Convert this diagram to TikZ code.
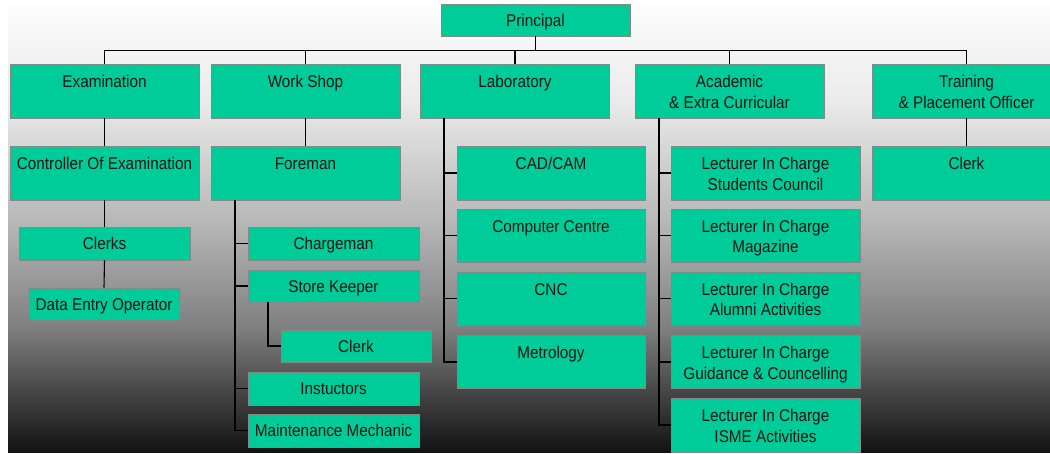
\documentclass[tikz,border=0pt]{standalone}
\usepackage{fontspec}
\setmainfont{Liberation Sans}[FakeStretch=0.9]
\definecolor{boxgreen}{RGB}{0,204,153}
\definecolor{boxline}{RGB}{125,140,135}
\newcommand\tstrut{\rule{0pt}{20.35pt}}
\newcommand\oneline[1]{\raisebox{0pt}[14.1pt][2pt]{#1}}
\pgfdeclareverticalshading{bgshade}{100bp}{color(0bp)=(black!93); color(25bp)=(black!93); color(31bp)=(black!75); color(39bp)=(black!50); color(51bp)=(black!28); color(64.5bp)=(black!8); color(75bp)=(black!1); color(100bp)=(black!1)}
\tikzset{
  orgbox/.style={draw=boxline, fill=boxgreen, line width=0.8pt, inner sep=0pt, align=center,
    font=\fontsize{17}{20.5}\selectfont, text=black!92},
  bigbox/.style={orgbox, minimum width=189pt, minimum height=54pt},
  midbox/.style={orgbox, minimum width=171pt, minimum height=33pt},
  narrowbox/.style={orgbox, minimum width=150pt, minimum height=32pt},
  con/.style={draw=black, line width=1.1pt}
}
\begin{document}
\begin{tikzpicture}[x=1pt,y=-1pt]
\useasboundingbox (0,0) rectangle (1050,454);
\fill[shading=bgshade] (8,7) rectangle (1050,452);

% top
\node[orgbox, minimum width=189pt, minimum height=32pt] (prin) at (535.5,20) {\oneline{Principal}};
\node[bigbox] (exam) at (104.5,91) {\tstrut Examination\\\strut};
\node[bigbox] (work) at (305.5,91) {\tstrut Work Shop\\\strut};
\node[bigbox] (lab) at (515,91) {\tstrut Laboratory\\\strut};
\node[bigbox] (acad) at (729.5,91) {\tstrut Academic\\\& Extra Curricular\strut};
\node[bigbox] (train) at (966.5,91) {\tstrut Training\\\& Placement Officer\strut};

% second row
\node[bigbox] (ctrl) at (104.5,173) {\tstrut Controller Of Examination\\\strut};
\node[bigbox] (fore) at (305.5,173) {\tstrut Foreman\\\strut};
\node[bigbox] (tclerk) at (966.5,173) {\tstrut Clerk\\\strut};

% examination branch
\node[midbox] (clerks) at (104.5,243.5) {\oneline{Clerks}};
\node[narrowbox] (deo) at (104,304) {\oneline{Data Entry Operator}};

% workshop branch
\node[midbox] (charge) at (333.5,243.5) {\oneline{Chargeman}};
\node[midbox, minimum height=32pt] (store) at (333.5,286) {\oneline{Store Keeper}};
\node[narrowbox] (sclerk) at (356,346) {\oneline{Clerk}};
\node[midbox] (inst) at (333.5,388.5) {\oneline{Instuctors}};
\node[midbox] (maint) at (333.5,430.5) {\oneline{Maintenance Mechanic}};

% laboratory branch
\node[bigbox, minimum width=188pt] (cad) at (551,173) {\tstrut CAD/CAM\\\strut};
\node[bigbox, minimum width=188pt, minimum height=53pt] (cc) at (551,235.5) {\tstrut Computer Centre\\\strut};
\node[bigbox, minimum width=188pt, minimum height=53pt] (cnc) at (551,298.5) {\tstrut CNC\\\strut};
\node[bigbox, minimum width=188pt, minimum height=53pt] (met) at (551,362) {\tstrut Metrology\\\strut};

% academic branch
\node[bigbox] (l1) at (765.5,173) {\tstrut Lecturer In Charge\\Students Council\strut};
\node[bigbox, minimum height=53pt] (l2) at (765.5,235.5) {\tstrut Lecturer In Charge\\Magazine\strut};
\node[bigbox, minimum height=53pt] (l3) at (765.5,298.5) {\tstrut Lecturer In Charge\\Alumni Activities\strut};
\node[bigbox, minimum height=53pt] (l4) at (765.5,362) {\tstrut Lecturer In Charge\\Guidance \& Councelling\strut};
\node[bigbox] (l5) at (765.5,425) {\tstrut Lecturer In Charge\\ISME Activities\strut};

% connectors
\coordinate (bus) at (0,50.5);
\coordinate (fb) at (235,0);
\coordinate (sb) at (268,0);
\coordinate (lb) at (444,0);
\coordinate (ab) at (659,0);

\draw[con] (prin.south) -- (prin.south |- bus);
\draw[con] (exam.north) -- (exam.north |- bus) -- (train.north |- bus) -- (train.north);
\draw[con] (work.north) -- (work.north |- bus);
\draw[con] (lab.north) -- (lab.north |- bus);
\draw[con] (acad.north) -- (acad.north |- bus);

\draw[con] (exam.south) -- (ctrl.north);
\draw[con] (ctrl.south) -- (clerks.north);
\draw[con] (clerks.south) -- (deo.north);

\draw[con] (work.south) -- (fore.north);
\draw[con] (fore.south -| fb) |- (maint.west);
\draw[con] (fore.south -| fb) |- (charge.west);
\draw[con] (fore.south -| fb) |- (store.west);
\draw[con] (fore.south -| fb) |- (inst.west);
\draw[con] (store.south -| sb) |- (sclerk.west);

\draw[con] (lab.south -| lb) |- (met.west);
\draw[con] (lab.south -| lb) |- (cad.west);
\draw[con] (lab.south -| lb) |- (cc.west);
\draw[con] (lab.south -| lb) |- (cnc.west);

\draw[con] (acad.south -| ab) |- (l5.west);
\draw[con] (acad.south -| ab) |- (l1.west);
\draw[con] (acad.south -| ab) |- (l2.west);
\draw[con] (acad.south -| ab) |- (l3.west);
\draw[con] (acad.south -| ab) |- (l4.west);

\draw[con] (train.south) -- (tclerk.north);
\end{tikzpicture}
\end{document}
